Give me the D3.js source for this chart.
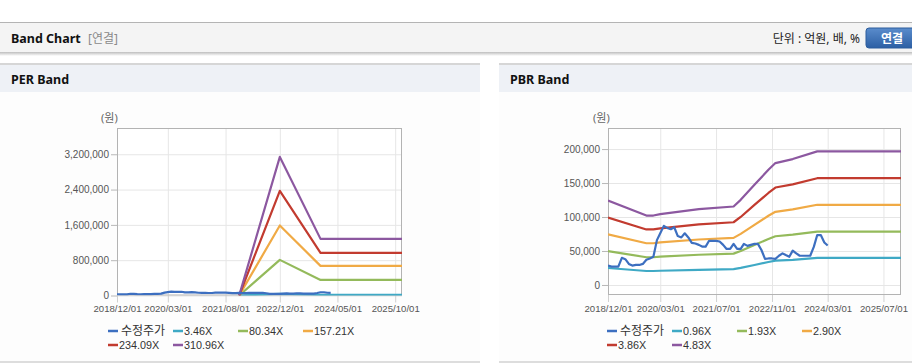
<!DOCTYPE html>
<html><head><meta charset="utf-8">
<script src="https://cdn.jsdelivr.net/npm/d3@7"></script>
<style>
html,body{margin:0;padding:0;background:#fff;}
svg{display:block;}
</style></head>
<body>
<svg id="chart" width="912" height="364"></svg>
<script>
// ---------- DATA ----------
const xTickLabelsPER = ["2018/12/01","2020/03/01","2021/08/01","2022/12/01","2024/05/01","2025/10/01"];
const xTickLabelsPBR = ["2018/12/01","2020/03/01","2021/07/01","2022/11/01","2024/03/01","2025/07/01"];
const xDomain = ["2018-12-01","2025-12-01"];
const priceStart = "2018-12-01", priceEnd = "2024-04-01"; // monthly categories Dec 2018 .. Mar 2024
const price = [28500,27000,27000,27000,40000,38000,31000,28500,29500,29500,31000,37000,39000,41500,
  66000,76000,87000,84000,82000,85000,72000,70000,76000,70000,62000,61000,59000,56500,56500,65000,
  65000,65000,64000,59000,53000,53000,60500,53000,53000,60500,57500,59000,60500,60500,51500,38500,
  39000,39000,38500,43000,46500,44000,41500,50500,46500,43000,43000,43000,43000,56000,73500,73500,62500,58000];

const perNames = ["3.46X","80.34X","157.21X","234.09X","310.96X"];
const perDates = ["2021-12-01","2022-12-01","2023-12-01","2025-12-01"];
const per346  = [0,   35000,  14300,  14300];
const per8034 = [0,  807000, 352000, 352000];
const per15721= [0, 1586000, 671000, 671000];
const per23409= [0, 2370000, 965000, 965000];
const per31096= [0, 3140000,1283000,1283000];
const perYTicks = [0,800000,1600000,2400000,3200000];

const pbrNames = ["0.96X","1.93X","2.90X","3.86X","4.83X"];
const pbrDates = ["2018-12-01","2019-11-01","2020-01-01","2020-03-01","2021-02-01","2021-12-01","2022-02-01",
  "2022-06-01","2022-10-01","2022-12-01","2023-05-01","2023-12-01","2025-12-01"];
const pbr096 = [25000,20600,20600,20900,22300,23400,25100,29400,33800,35800,37000,39800,39800];
const pbr193 = [49700,40800,40800,41600,44500,46100,50100,58900,67700,71700,74000,78600,78600];
const pbr290 = [74600,61400,61400,62600,66900,69300,75200,88500,101800,107700,111200,118000,118000];
const pbr386 = [99300,81700,81700,83300,89100,92300,100100,117800,135400,143400,148100,157100,157100];
const pbr483 = [124300,102200,102200,104200,111500,115500,125300,147400,169500,179400,185300,196600,196600];
const pbrYTicks = [0,50000,100000,150000,200000];

const colors = ["#3d6fc0","#3fa9c5","#94ba5b","#f0aa45","#c23b2f","#8c58a0"];
const priceName = "수정주가";

// ---------- DRAW ----------
const svg = d3.select("#chart");
const parse = d3.timeParse("%Y-%m-%d");
const parseTick = d3.timeParse("%Y/%m/%d");
const fontAxis = "'Liberation Sans', Arial, 'Noto Sans CJK KR', sans-serif";
const fontKR = "'Noto Sans', 'Noto Sans CJK KR', sans-serif";

const defs = svg.append("defs");
const sh = defs.append("linearGradient").attr("id","shadow").attr("x1",0).attr("y1",0).attr("x2",0).attr("y2",1);
sh.append("stop").attr("offset","0%").attr("stop-color","#bdbdbd");
sh.append("stop").attr("offset","100%").attr("stop-color","#ffffff");
const btn = defs.append("linearGradient").attr("id","btn").attr("x1",0).attr("y1",0).attr("x2",0).attr("y2",1);
btn.append("stop").attr("offset","0%").attr("stop-color","#5a8ccc");
btn.append("stop").attr("offset","100%").attr("stop-color","#2c5fa4");

svg.append("rect").attr("x",0).attr("y",22).attr("width",912).attr("height",1).attr("fill","#b4b4b4");
svg.append("rect").attr("x",0).attr("y",23).attr("width",912).attr("height",29).attr("fill","#f4f4f4");
svg.append("rect").attr("x",0).attr("y",52).attr("width",912).attr("height",4).attr("fill","url(#shadow)");
svg.append("text").attr("x",11).attr("y",43).attr("font-family",fontKR).attr("font-weight","bold")
  .attr("font-size",12.5).attr("fill","#111").text("Band Chart");
svg.append("text").attr("x",88).attr("y",43).attr("font-family",fontKR)
  .attr("font-size",12).attr("fill","#8a8a8a").text("[연결]");
svg.append("text").attr("x",860).attr("y",43).attr("text-anchor","end").attr("font-family",fontKR)
  .attr("font-size",12).attr("fill","#222").text("단위 : 억원, 배, %");
svg.append("rect").attr("x",866).attr("y",28).attr("width",52).attr("height",20).attr("rx",3)
  .attr("fill","url(#btn)").attr("stroke","#2d5d9c");
svg.append("text").attr("x",892).attr("y",42.5).attr("text-anchor","middle").attr("font-family",fontKR)
  .attr("font-weight","bold").attr("font-size",12).attr("fill","#fff").text("연결");

function panel(px, title) {
  const w = 480;
  svg.append("rect").attr("x",px).attr("y",63).attr("width",w).attr("height",2).attr("fill","#d6d6d6");
  svg.append("rect").attr("x",px).attr("y",65).attr("width",w).attr("height",27).attr("fill","#eef1f6");
  svg.append("rect").attr("x",px).attr("y",92).attr("width",w).attr("height",269).attr("fill","#fdfdfd");
  svg.append("rect").attr("x",px).attr("y",361).attr("width",w).attr("height",2).attr("fill","#dddddd");
  svg.append("text").attr("x",px+11).attr("y",84).attr("font-family",fontKR).attr("font-weight","bold")
    .attr("font-size",12.5).attr("fill","#111").text(title);
}
panel(0,"PER Band");
panel(499,"PBR Band");

function chart(cfg) {
  const x = d3.scaleTime().domain(xDomain.map(parse)).range([cfg.left, cfg.right]);
  const y = d3.scaleLinear().domain(cfg.yDomain).range([cfg.bottom, cfg.top]);
  const g = svg.append("g");
  const clipId = "clip" + cfg.id;
  defs.append("clipPath").attr("id",clipId).append("rect")
    .attr("x",cfg.left).attr("y",cfg.top).attr("width",cfg.right-cfg.left).attr("height",cfg.bottom-cfg.top);
  g.append("rect").attr("x",cfg.left).attr("y",cfg.top).attr("width",cfg.right-cfg.left)
    .attr("height",cfg.bottom-cfg.top).attr("fill","#fff");
  const tickDates = cfg.xTicks.map(parseTick);
  g.append("g").attr("transform",`translate(0,${cfg.bottom})`)
    .call(d3.axisBottom(x).tickValues(tickDates).tickSize(-(cfg.bottom-cfg.top)).tickFormat(""))
    .call(a=>{a.select(".domain").remove(); a.selectAll("line").attr("stroke","#e6e6e6");});
  g.append("g").attr("transform",`translate(${cfg.left},0)`)
    .call(d3.axisLeft(y).tickValues(cfg.yTicks).tickSize(-(cfg.right-cfg.left)).tickFormat(""))
    .call(a=>{a.select(".domain").remove(); a.selectAll("line").attr("stroke","#e6e6e6");});
  const xa = g.append("g").attr("transform",`translate(0,${cfg.bottom})`)
    .call(d3.axisBottom(x).tickValues(tickDates).tickSize(7).tickPadding(3)
      .tickFormat((d,i)=>cfg.xTicks[i]));
  xa.select(".domain").remove();
  xa.selectAll("line").attr("stroke","#d0d0d0");
  xa.selectAll("text").attr("font-family",fontAxis).attr("font-size",9.6).attr("fill","#555");
  const ya = g.append("g").attr("transform",`translate(${cfg.left},0)`)
    .call(d3.axisLeft(y).tickValues(cfg.yTicks).tickSize(6).tickPadding(2).tickFormat(d3.format(",")));
  ya.select(".domain").remove();
  ya.selectAll("line").attr("stroke","#b8b8b8");
  ya.selectAll("text").attr("font-family",fontAxis).attr("font-size",10).attr("fill","#555");
  g.append("rect").attr("x",cfg.left+0.5).attr("y",cfg.top+0.5).attr("width",cfg.right-cfg.left-1)
    .attr("height",cfg.bottom-cfg.top-1).attr("fill","none").attr("stroke","#b3b3b3");
  g.append("text").attr("x",cfg.unitX).attr("y",cfg.top-6).attr("font-family",fontKR)
    .attr("font-size",11).attr("fill","#666").text("(원)");

  const line = d3.line().x(d=>x(d[0])).y(d=>y(d[1]));
  const lg = g.append("g").attr("clip-path",`url(#${clipId})`);
  const bandDates = cfg.bandDates.map(parse);
  cfg.bands.forEach((vals,i)=>{
    lg.append("path").datum(vals.map((v,j)=>[bandDates[j],v]))
      .attr("d",line).attr("fill","none").attr("stroke",colors[i+1]).attr("stroke-width",2.2)
      .attr("stroke-linejoin","round");
  });
  const months = d3.timeMonth.range(parse(priceStart), parse(priceEnd));
  lg.append("path").datum(price.map((v,j)=>[months[j],v]))
    .attr("d",line).attr("fill","none").attr("stroke",colors[0]).attr("stroke-width",2.2)
    .attr("stroke-linejoin","round");

  const names = [priceName].concat(cfg.names);
  names.forEach((n,i)=>{
    const col = i%4, row = Math.floor(i/4);
    const lx = cfg.legendX + col*65, ly = 331 + row*14;
    g.append("line").attr("x1",lx).attr("x2",lx+10).attr("y1",ly).attr("y2",ly)
      .attr("stroke",colors[i]).attr("stroke-width",2.5);
    g.append("text").attr("x",lx+(i===0?13:11)).attr("y",ly+4).attr("font-family",fontAxis)
      .attr("font-size",i===0?12:10.8).attr("fill","#333").text(n);
  });
}

chart({id:"per", left:117, right:402, top:128, bottom:295.5, yDomain:[0,3795000], yTicks:perYTicks,
  xTicks:xTickLabelsPER, bandDates:perDates, bands:[per346,per8034,per15721,per23409,per31096],
  names:perNames, legendX:108, unitX:101});
chart({id:"pbr", left:608, right:901, top:128, bottom:295, yDomain:[-14750,231000], yTicks:pbrYTicks,
  xTicks:xTickLabelsPBR, bandDates:pbrDates, bands:[pbr096,pbr193,pbr290,pbr386,pbr483],
  names:pbrNames, legendX:607, unitX:593});
</script>
</body></html>
